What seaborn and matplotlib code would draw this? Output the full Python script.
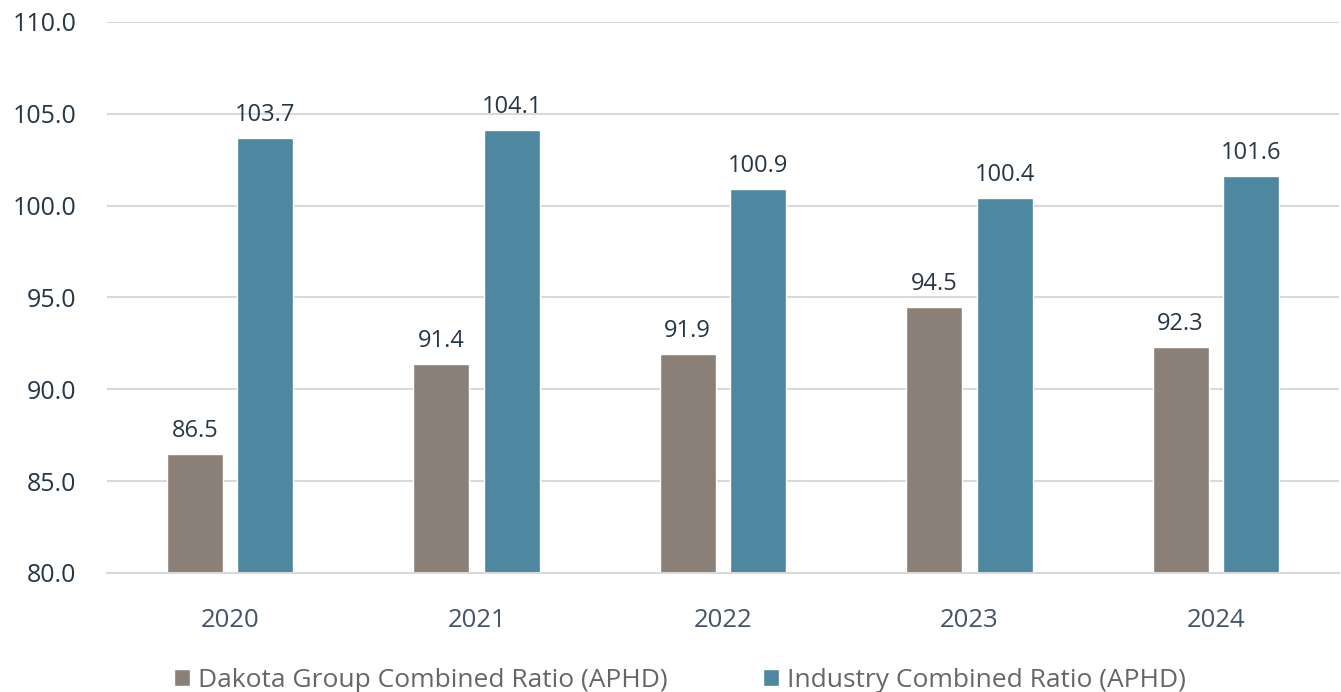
import pandas as pd
import seaborn as sns
from matplotlib import pyplot as plt

years = ['2020', '2021', '2022', '2023', '2024']
dakota = [86.5, 91.4, 91.9, 94.5, 92.3]
industry = [103.7, 104.1, 100.9, 100.4, 101.6]
series_names = ['Dakota Group Combined Ratio (APHD)', 'Industry Combined Ratio (APHD)']
colors = ['#8B8077', '#4E87A0']
yticks = [80, 85, 90, 95, 100, 105, 110]


def main():
    df = pd.DataFrame({
        'year': years * 2,
        'value': dakota + industry,
        'series': [series_names[0]] * len(years) + [series_names[1]] * len(years),
    })

    sns.set_style('white')
    plt.rcParams['font.family'] = ['Open Sans', 'DejaVu Sans']

    fig = plt.figure(figsize=(13.41, 6.92), dpi=100)
    ax = fig.add_axes([107 / 1341, 1 - 573 / 692, 1232 / 1341, 551 / 692])

    sns.barplot(data=df, x='year', y='value', hue='series', palette=colors,
                width=0.572, gap=0.206, ax=ax, saturation=1, legend=True)

    for cont in ax.containers:
        ax.bar_label(cont, fmt='%.1f', padding=8, fontsize=17, color='#253746')

    ax.set_ylim(80, 110)
    ax.set_xlim(-0.5, 4.5)
    ax.set_yticks(yticks)
    ax.set_yticklabels([f'{v:.1f}' for v in yticks])
    ax.yaxis.grid(True, color='#D9D9D9', linewidth=1.5)
    ax.set_axisbelow(True)
    for s in ['top', 'right', 'left']:
        ax.spines[s].set_visible(False)
    ax.spines['bottom'].set_color('#D9D9D9')
    ax.spines['bottom'].set_linewidth(1.5)
    ax.tick_params(axis='y', length=0, pad=22, labelsize=18, labelcolor='#253746')
    ax.tick_params(axis='x', length=0, pad=25, labelsize=18.5, labelcolor='#44546A')
    ax.set_xlabel('')
    ax.set_ylabel('')

    handles, labels = ax.get_legend_handles_labels()
    ax.legend(handles, labels, loc='center', bbox_to_anchor=(0.465, -0.195), ncol=2,
              frameon=False, fontsize=19, handlelength=0.6, handleheight=0.6,
              handletextpad=0.3, columnspacing=3.6, labelcolor='#666666')

    plt.savefig('out.png', dpi=100)


if __name__ == '__main__':
    main()
